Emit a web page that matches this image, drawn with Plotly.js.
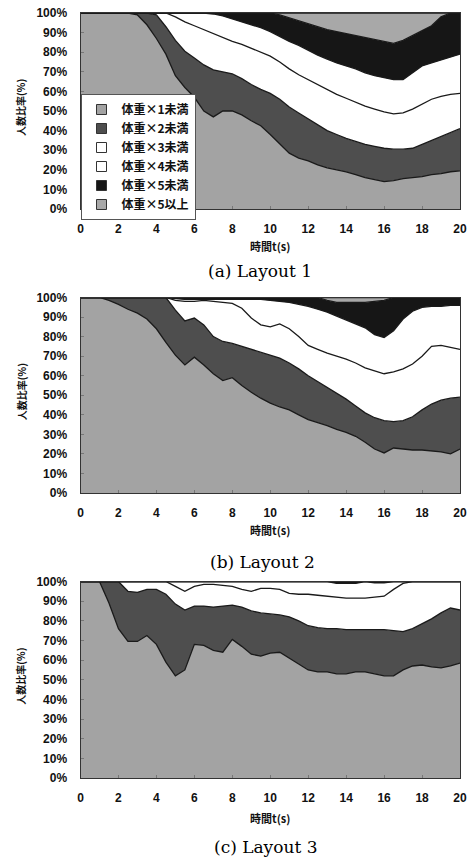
<!DOCTYPE html>
<html>
<head>
<meta charset="utf-8">
<script src="https://cdn.plot.ly/plotly-3.0.1.min.js"></script>
<style>
html,body{margin:0;padding:0;background:#fff;}
#chart{width:471px;height:861px;}
</style>
</head>
<body>
<div id="chart"></div>
<script>
// ---- data: time axis (s) ----
const timeS = [0,0.5,1,1.5,2,2.5,3,3.5,4,4.5,5,5.5,6,6.5,7,7.5,8,8.5,9,9.5,10,10.5,11,11.5,12,12.5,13,13.5,14,14.5,15,15.5,16,16.5,17,17.5,18,18.5,19,19.5,20];

// category labels
const categories = ['体重×1未満','体重×2未満','体重×3未満','体重×4未満','体重×5未満','体重×5以上'];
const captions = ['(a) Layout 1','(b) Layout 2','(c) Layout 3'];
const yTickValues = [0,10,20,30,40,50,60,70,80,90,100];
const xTickValues = [0,2,4,6,8,10,12,14,16,18,20];

// cumulative percentages (share of people below k x body weight)
// Layout 1
const L1_below1 = [100,100,100,100,100,100,99,94,87,79,68,62,57,50,47,50,50,48,45,42.5,38,33,28.5,26,24.5,22.5,21,20,19,17.5,16,15,14,14.5,15.5,16,16.5,17.5,18,19,19.5];
const L1_below2 = [100,100,100,100,100,100,100,100,99,93,86,80.5,77,73.5,71,70,69,66.5,63.5,61,59,56,52,49,46,43,40,38,36,34.5,33,32,31,30.5,30.5,31,33,35,37,39,41];
const L1_below3 = [100,100,100,100,100,100,100,100,100,100,98,95.5,93.5,91.5,89.5,87.5,85.5,84,82,80,78,75,71.5,68.5,66,63.5,61,58.5,56.5,54.5,52.5,51,49.5,48.5,49,51,53.5,56,57.5,58.5,59];
const L1_below4 = [100,100,100,100,100,100,100,100,100,100,100,100,100,100,99.5,98.5,97,95.5,94,92.5,90.5,88,85.5,83.5,81,78.5,76.5,74.5,73,71.5,69.5,68,67,66,66,69.5,73,74.5,76,77.5,79];
const L1_below5 = [100,100,100,100,100,100,100,100,100,100,100,100,100,100,100,100,100,100,100,100,100,99,97.5,96,94.5,93,91.5,90.5,89.5,88.5,87.5,86.5,85.5,84.5,86,88.5,91,93.5,98,100,100];
// Layout 2
const L2_below1 = [100,100,100,98.5,96.5,94,92,89,84,77,70.5,65.5,69.5,65.5,61,57.5,59,55,51.5,48.5,46,44,42.5,40,37.5,36,34.5,32.5,31,29,26,22.5,20.5,23,22.5,22,22,21.5,21,20,22.5];
const L2_below2 = [100,100,100,100,100,100,100,100,100,100,93.5,88,89.5,86,80,77.5,76.5,75,73.5,72,70.5,69,66.5,63.5,60,57,54,51,48,44.5,41,38.5,37,36.5,37,39,42.5,45.5,47.5,48.5,49];
const L2_below3 = [100,100,100,100,100,100,100,100,100,100,98.5,98,98,98.5,98,97.5,97,94.5,89.5,86,85,86.5,84,80,75.5,73.5,71.5,70,68.5,66.5,64,62.5,61,62,63.5,66,70,75,75.5,74.5,73.5];
const L2_below4 = [100,100,100,100,100,100,100,100,100,100,99.5,99,99,99,99,99,99,99,99,99,98.5,98,97.5,96.5,95.5,94,92.5,90.5,88.5,86.5,84.5,81,79.5,83,89,93,95,95.5,95.5,96,96];
const L2_below5 = [100,100,100,100,100,100,100,100,100,100,100,100,100,100,100,100,100,100,100,100,100,100,100,100,100,100,98.5,97.5,97.5,97.5,97.5,98,98.5,100,100,100,100,100,100,100,100];
// Layout 3
const L3_below1 = [100,100,100,89,76,69.5,69.5,72.5,68,59,52,55,68,67.5,65,64,70.5,67,63,62,63.5,64,61,58,55,54,54,53,53,54,54,53,52,52,55,57,57.5,56.5,56,57,58.5];
const L3_below2 = [100,100,100,100,100,95,94.5,96,96,93.5,88.5,85.5,87.5,87.5,87,87.5,88,87,85,84,83.5,83,82,80,77.5,76.5,76,76,75.5,75.5,75.5,75.5,75.5,75,74.5,76,78.5,81,84,86.5,85.5];
const L3_below3 = [100,100,100,100,100,100,100,100,100,100,97.5,95,97.5,98.5,98.5,98,97.5,96,95,96.5,96.5,96,94,93.5,93.5,93,92.5,92,91.5,91.5,91.5,92,92.5,96,99,100,100,100,100,100,100];
const L3_below4 = [100,100,100,100,100,100,100,100,100,100,100,100,100,100,100,100,100,100,100,100,100,100,100,100,100,100,100,99,99,99,100,99.3,99.3,100,100,100,100,100,100,100,100];
const L3_below5 = [100,100,100,100,100,100,100,100,100,100,100,100,100,100,100,100,100,100,100,100,100,100,100,100,100,100,100,100,100,100,100,100,100,100,100,100,100,100,100,100,100];

const layouts = [
  [L1_below1, L1_below2, L1_below3, L1_below4, L1_below5],
  [L2_below1, L2_below2, L2_below3, L2_below4, L2_below5],
  [L3_below1, L3_below2, L3_below3, L3_below4, L3_below5]
];

// ---- styles ----
const fillColors = ['#a3a3a3','#4e4e4e','#ffffff','#ffffff','#161616','#a8a8a8'];
const W = 471, H = 861;
const px = v => v / W;
const py = v => 1 - v / H;
const plotLeft = 80.5, plotRight = 460;
const plotBox = [[13, 209], [297.5, 493], [581.5, 778]]; // top, bottom in px

const traces = [];
layouts.forEach((cums, li) => {
  const ax = li === 0 ? '' : String(li + 1);
  // convert cumulative boundaries into band shares, then let Plotly stack them
  const bands = [];
  for (let k = 0; k < 6; k++) {
    bands.push(timeS.map((_, i) => {
      const hi = k < 5 ? cums[k][i] : 100;
      const lo = k > 0 ? cums[k - 1][i] : 0;
      return hi - lo;
    }));
  }
  bands.forEach((vals, k) => {
    traces.push({
      type: 'scatter', mode: 'lines', x: timeS, y: vals,
      stackgroup: 'g' + li, name: categories[k], legendgroup: categories[k],
      showlegend: false, fillcolor: fillColors[k],
      line: {color: '#1a1a1a', width: 1.3, shape: 'linear'},
      xaxis: 'x' + ax, yaxis: 'y' + ax, hoverinfo: 'skip'
    });
  });
});
// legend entries (square swatches)
categories.forEach((c, k) => {
  traces.push({
    type: 'scatter', mode: 'markers', x: [null], y: [null], name: c, legendgroup: c,
    showlegend: true, xaxis: 'x', yaxis: 'y',
    marker: {symbol: 'square', size: 10, color: fillColors[k], line: {color: '#333', width: 1}}
  });
});

const tickFont = {family: 'Liberation Sans, Arial, sans-serif', size: 12, color: '#111', weight: 'bold'};
const cjk = 'Noto Sans CJK JP, sans-serif';

const layout = {
  width: W, height: H,
  margin: {l: 0, r: 0, t: 0, b: 0},
  paper_bgcolor: '#fff', plot_bgcolor: '#fff',
  showlegend: true,
  legend: {
    x: px(plotLeft), y: py(94), xanchor: 'left', yanchor: 'top',
    bgcolor: '#fff', bordercolor: '#555', borderwidth: 1,
    font: {family: cjk, size: 12, color: '#111', weight: 'bold'},
    traceorder: 'normal', itemwidth: 30, tracegroupgap: 0
  },
  annotations: [],
  font: {family: 'Liberation Sans, Arial, sans-serif', color: '#111'}
};

const captionY = [271, 562, 847];
const captionX = [260, 262, 265];
const xTitleY = [246, 530, 818];
plotBox.forEach((b, i) => {
  const ax = i === 0 ? '' : String(i + 1);
  layout['xaxis' + ax] = {
    domain: [px(plotLeft), px(plotRight)], anchor: 'y' + ax,
    range: [0, 20], tickvals: xTickValues, ticktext: xTickValues.map(String),
    ticks: 'inside', ticklen: 3, tickcolor: '#777',
    showline: true, mirror: true, linecolor: '#333', linewidth: 1,
    showgrid: false, zeroline: false, tickfont: tickFont, ticklabelstandoff: 9
  };
  layout['yaxis' + ax] = {
    domain: [py(b[1]), py(b[0])], anchor: 'x' + ax,
    range: [0, 100], tickvals: yTickValues, ticktext: yTickValues.map(v => v + '%'),
    ticks: 'inside', ticklen: 3, tickcolor: '#777',
    showline: true, mirror: true, linecolor: '#333', linewidth: 1,
    showgrid: false, zeroline: false, tickfont: tickFont, ticklabelstandoff: 10
  };
  layout.annotations.push({
    text: '人数比率(%)', xref: 'paper', yref: 'paper', x: px(21), y: py((b[0] + b[1]) / 2 - 3),
    xanchor: 'center', yanchor: 'middle', textangle: -90, showarrow: false,
    font: {family: cjk, size: 10, color: '#111', weight: 'bold'}
  });
  layout.annotations.push({
    text: '時間t(s)', xref: 'paper', yref: 'paper', x: px((plotLeft + plotRight) / 2), y: py(xTitleY[i]),
    xanchor: 'center', yanchor: 'middle', showarrow: false,
    font: {family: cjk, size: 11, color: '#111', weight: 'bold'}
  });
  layout.annotations.push({
    text: captions[i], xref: 'paper', yref: 'paper', x: px(captionX[i]), y: py(captionY[i]),
    xanchor: 'center', yanchor: 'middle', showarrow: false,
    font: {family: 'DejaVu Serif, serif', size: 17, color: '#000'}
  });
});

Plotly.newPlot('chart', traces, layout, {staticPlot: true, displayModeBar: false});
</script>
</body>
</html>
